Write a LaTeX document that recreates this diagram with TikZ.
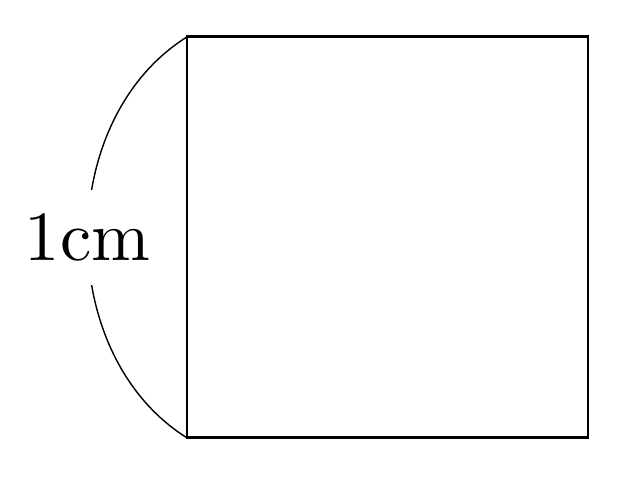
\documentclass[tikz,border=0pt]{standalone}
\usetikzlibrary{positioning}

\begin{document}
\begin{tikzpicture}
        \tikzstyle{side} = [draw, line width=0.4pt]
        \tikzstyle{span} = [draw, very thin, bend right=58]
        \tikzstyle{lbl} = [fill=white]

        \useasboundingbox (-0.933,-0.21) rectangle (2.219,2.184);

        \coordinate (bl) at (0,0);
        \coordinate (tl) at (0,2);
        \draw[side] (bl) rectangle (2,2);

        \path[span] (tl) to node[lbl] (len) {1cm} (bl);
      \end{tikzpicture}
\end{document}
